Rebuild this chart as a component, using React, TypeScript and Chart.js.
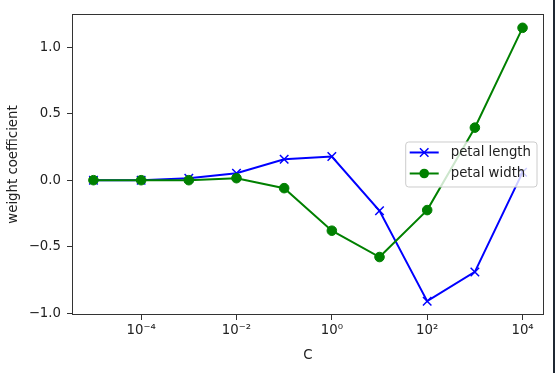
import React, { useEffect, useRef } from "react";
import { Chart, registerables } from "chart.js";

Chart.register(...registerables);

const cValues = [1e-5, 1e-4, 1e-3, 1e-2, 1e-1, 1, 10, 100, 1000, 10000];
const petalLength = [0.0, 0.0, 0.015, 0.052, 0.158, 0.178, -0.23, -0.91, -0.69, 0.059];
const petalWidth = [0.0, 0.0, 0.0, 0.015, -0.06, -0.38, -0.578, -0.225, 0.395, 1.146];
const seriesLabels = ["petal length", "petal width"];
const seriesColors = ["#0000ff", "#008000"];
const xTickValues = [1e-4, 1e-2, 1, 1e2, 1e4];
const xTickLabels = ["10⁻⁴", "10⁻²", "10⁰", "10²", "10⁴"];
const yTickValues = [-1, -0.5, 0, 0.5, 1];
const yTickLabels = ["−1.0", "−0.5", "0.0", "0.5", "1.0"];
const xTitle = "C";
const yTitle = "weight coefficient";

const FONT = "'DejaVu Sans', sans-serif";
const FS = 13.3;

const frameAndLegend = {
  id: "frameAndLegend",
  afterDatasetsDraw(chart: any) {
    const { ctx, chartArea } = chart;
    ctx.save();
    ctx.strokeStyle = "#333";
    ctx.lineWidth = 1;
    ctx.strokeRect(
      Math.round(chartArea.left) + 0.5,
      Math.round(chartArea.top) + 0.5,
      Math.round(chartArea.right - chartArea.left) - 1,
      Math.round(chartArea.bottom - chartArea.top) - 1
    );
    ctx.font = `${FS}px ${FONT}`;
    const ds = chart.data.datasets;
    let tw = 0;
    ds.forEach((d: any) => {
      tw = Math.max(tw, ctx.measureText(d.label).width);
    });
    const w = 3 + 30 + 12 + tw + 6;
    const h = 45;
    const x = chartArea.right - 7 - w;
    const midY = (chartArea.top + chartArea.bottom) / 2;
    const y = midY - h / 2;
    ctx.beginPath();
    const r = 3;
    ctx.moveTo(x + r, y);
    ctx.lineTo(x + w - r, y);
    ctx.quadraticCurveTo(x + w, y, x + w, y + r);
    ctx.lineTo(x + w, y + h - r);
    ctx.quadraticCurveTo(x + w, y + h, x + w - r, y + h);
    ctx.lineTo(x + r, y + h);
    ctx.quadraticCurveTo(x, y + h, x, y + h - r);
    ctx.lineTo(x, y + r);
    ctx.quadraticCurveTo(x, y, x + r, y);
    ctx.closePath();
    ctx.fillStyle = "rgba(255,255,255,0.8)";
    ctx.fill();
    ctx.strokeStyle = "#cccccc";
    ctx.lineWidth = 1;
    ctx.stroke();
    ds.forEach((d: any, i: number) => {
      const ry = y + 10.5 + i * 21;
      const lx0 = x + 4;
      const lx1 = x + 33;
      const mx = (lx0 + lx1) / 2;
      ctx.strokeStyle = d.borderColor;
      ctx.lineWidth = 2;
      ctx.beginPath();
      ctx.moveTo(lx0, ry);
      ctx.lineTo(lx1, ry);
      ctx.stroke();
      if (d.pointStyle === "circle") {
        ctx.fillStyle = d.borderColor;
        ctx.beginPath();
        ctx.arc(mx, ry, d.pointRadius, 0, Math.PI * 2);
        ctx.fill();
      } else {
        const s = d.pointRadius * Math.SQRT1_2;
        ctx.lineWidth = d.pointBorderWidth;
        ctx.beginPath();
        ctx.moveTo(mx - s, ry - s);
        ctx.lineTo(mx + s, ry + s);
        ctx.moveTo(mx - s, ry + s);
        ctx.lineTo(mx + s, ry - s);
        ctx.stroke();
      }
      ctx.fillStyle = "#222";
      ctx.textBaseline = "middle";
      ctx.textAlign = "left";
      ctx.fillText(d.label, x + 45, ry + 0.5);
    });
    ctx.restore();
  },
};

export default function App() {
  const ref = useRef<HTMLCanvasElement | null>(null);
  useEffect(() => {
    if (!ref.current) return;
    const series = [petalLength, petalWidth];
    const chart = new Chart(ref.current, {
      type: "line",
      data: {
        datasets: series.map((vals, i) => ({
          label: seriesLabels[i],
          data: cValues.map((c, j) => ({ x: c, y: vals[j] })),
          borderColor: seriesColors[i],
          backgroundColor: seriesColors[i],
          borderWidth: 2,
          tension: 0,
          fill: false,
          pointStyle: i === 0 ? "crossRot" : "circle",
          pointRadius: i === 0 ? 6 : 4.8,
          pointBorderWidth: i === 0 ? 1.5 : 1,
          pointBorderColor: seriesColors[i],
          pointBackgroundColor: seriesColors[i],
          order: i === 0 ? 1 : 0,
        })),
      },
      options: {
        responsive: false,
        animation: false,
        events: [],
        layout: { padding: { top: 10, right: 11, left: 0, bottom: 0 } },
        plugins: { legend: { display: false }, tooltip: { enabled: false } },
        scales: {
          x: {
            type: "logarithmic",
            bounds: "data",
            min: Math.pow(10, -5.45),
            max: Math.pow(10, 4.45),
            afterBuildTicks: (s: any) => {
              s.ticks = xTickValues.map((v) => ({ value: v }));
            },
            afterFit: (s: any) => {
              s.height = 58;
            },
            ticks: {
              autoSkip: false,
              maxRotation: 0,
              padding: 3,
              color: "#222",
              font: { family: FONT, size: FS },
              callback: (_v: any, idx: number) => xTickLabels[idx],
            },
            grid: { drawOnChartArea: false, drawTicks: true, tickLength: 5, color: "#333", lineWidth: 1 },
            border: { display: false },
            title: {
              display: true,
              text: xTitle,
              color: "#222",
              font: { family: FONT, size: FS },
              padding: { top: 4, bottom: 9 },
            },
          },
          y: {
            type: "linear",
            bounds: "data",
            min: -1.014,
            max: 1.25,
            afterBuildTicks: (s: any) => {
              s.ticks = yTickValues.map((v) => ({ value: v }));
            },
            afterFit: (s: any) => {
              s.width = 72;
            },
            ticks: {
              autoSkip: false,
              padding: 6,
              color: "#222",
              font: { family: FONT, size: FS },
              callback: (_v: any, idx: number) => yTickLabels[idx],
            },
            grid: { drawOnChartArea: false, drawTicks: true, tickLength: 5, color: "#333", lineWidth: 1 },
            border: { display: false },
            title: {
              display: true,
              text: yTitle,
              color: "#222",
              font: { family: FONT, size: FS },
              padding: { top: 6, bottom: 4 },
            },
          },
        },
      },
      plugins: [frameAndLegend],
    } as any);
    return () => chart.destroy();
  }, []);
  return (
    <div style={{ position: "fixed", left: 0, top: 0, width: 555, height: 373, background: "#fff" }}>
      <canvas ref={ref} width={555} height={373} style={{ display: "block" }} />
      <div style={{ position: "absolute", left: 553, top: 0, width: 2, height: 373, background: "#1f2833" }} />
    </div>
  );
}
